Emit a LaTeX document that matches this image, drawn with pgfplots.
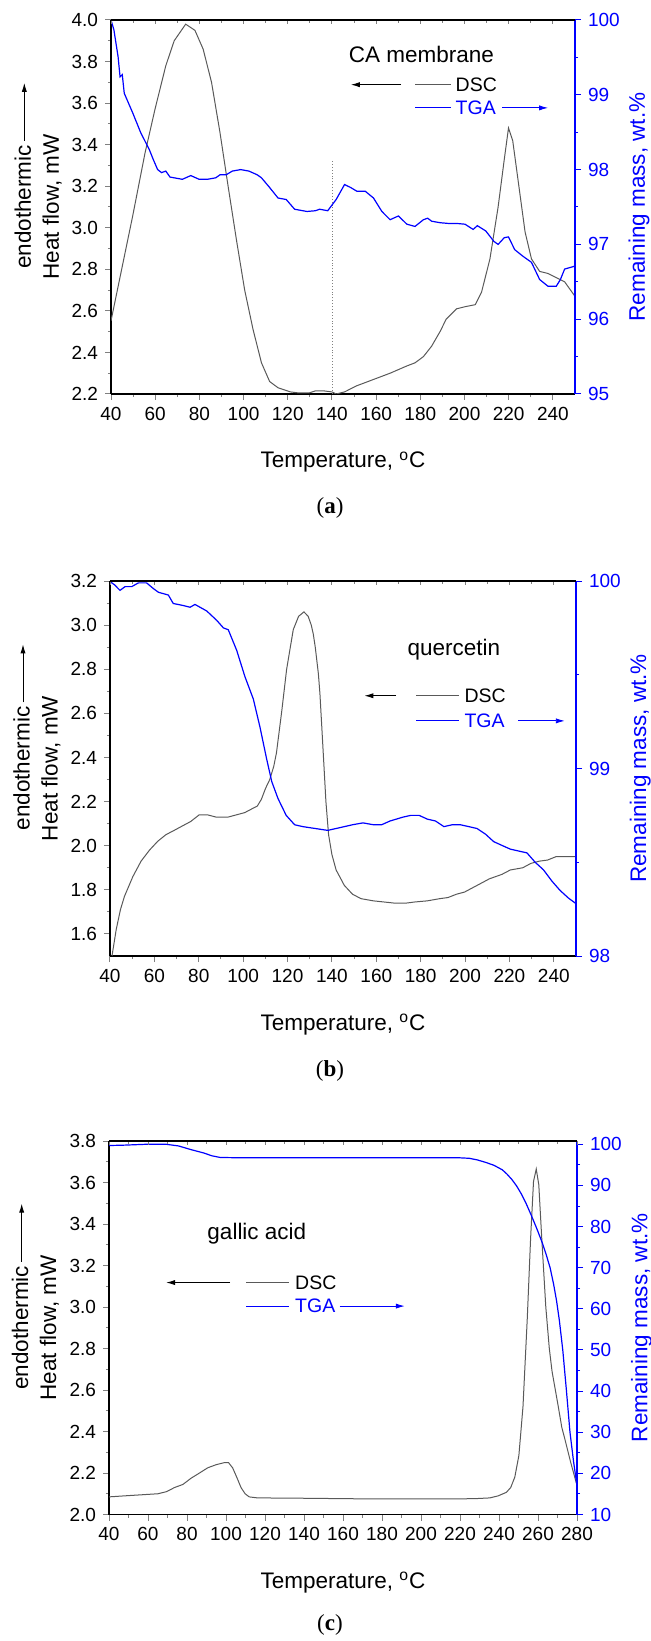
\documentclass[border=0pt]{standalone}
\usepackage{fontspec}
\setmainfont{Liberation Sans}
\newfontfamily\capfont{Liberation Serif}
\usepackage{pgfplots}
\pgfplotsset{compat=1.18}
\usetikzlibrary{arrows.meta}

\tikzset{
  dsc/.style={black!65, line width=0.5pt},
  tga/.style={blue, line width=0.6pt},
  legtext/.style={inner sep=0pt, font=\fontsize{9.75}{11}\selectfont},
  note/.style={inner sep=0pt, font=\fontsize{11.25}{13}\selectfont},
  harrow/.style={-{Latex[length=4.5pt,width=2.6pt]}, line width=0.45pt},
  subcaption/.style={font=\capfont\fontsize{11.5}{13}\selectfont, anchor=base},
}

\pgfplotsset{
  panel/.style={scale only axis, anchor=north west,
    axis line style={-, line width=0.65pt},
    tick style={line width=0.5pt},
    major tick length=3pt, minor tick length=1.6pt,
    tick label style={font=\fontsize{9.5}{11}\selectfont},
    label style={font=\fontsize{11.25}{14}\selectfont},
    /pgf/number format/assume math mode=true,
    tick align=outside},
  leftax/.style={panel, axis x line*=bottom, axis y line*=left,
    minor x tick num=1, minor y tick num=1,
    xlabel={Temperature, \textsuperscript{o}C},
    xlabel style={at={(axis description cs:0.5,0)}, anchor=base, yshift=-37pt},
    ylabel={endothermic\rlap{\,\tikz[baseline=-0.55ex]\draw[harrow](0,0)--(29pt,0);}\\Heat flow, mW},
    ylabel style={at={(axis description cs:-0.157,0.5)}, anchor=center, align=center},
    yticklabel style={/pgf/number format/fixed, /pgf/number format/fixed zerofill,
      /pgf/number format/precision=1}},
  rightax/.style={panel, axis y line*=right, axis x line=none,
    minor y tick num=1,
    y axis line style={blue}, tick style={blue}, tick label style={text=blue},
    ylabel={Remaining mass, wt.\%},
    ylabel style={text=blue, at={(axis description cs:1.138,0.5)}, anchor=center}},
  topax/.style={panel, axis x line*=top, axis y line=none, tick align=inside,
    major tick length=2pt, minor tick length=1.6pt, minor x tick num=1,
    xticklabels={}, ymin=0, ymax=1},
}

% legend rows: y(DSC), y(TGA), DSC arrow tip, DSC arrow tail, line from, line to, text x, TGA arrow from, TGA arrow to
\newcommand{\legrows}[9]{%
  \draw[harrow] (rel axis cs:#4,#1) -- (rel axis cs:#3,#1);
  \draw[dsc] (rel axis cs:#5,#1) -- (rel axis cs:#6,#1);
  \node[legtext, anchor=west] at (rel axis cs:#7,#1) {DSC};
  \draw[tga] (rel axis cs:#5,#2) -- (rel axis cs:#6,#2);
  \node[legtext, anchor=west, text=blue] at (rel axis cs:#7,#2) {TGA};
  \draw[harrow, blue] (rel axis cs:#8,#2) -- (rel axis cs:#9,#2);
}

\begin{document}
\begin{tikzpicture}
\useasboundingbox (0,0) rectangle (325.5pt,-820.5pt);

% ---------------- (a) CA membrane ----------------
\begin{axis}[leftax, at={(55.5pt,-10pt)}, width=232pt, height=187pt,
  xmin=40, xmax=250, xtick={40,60,...,240},
  ymin=2.2, ymax=4.0, ytick={2.2,2.4,2.6,2.8,3.0,3.2,3.4,3.6,3.8,4.0}]
\addplot[gray, densely dotted, line width=0.45pt] coordinates {(140,2.2) (140,3.33)};
\addplot[dsc] coordinates {
 (40,2.552) (49.8,3.056) (55.4,3.36) (59.9,3.57) (64.8,3.78) (68.6,3.90) (73.8,3.98)
 (78.0,3.95) (81.7,3.86) (85.5,3.70) (89.3,3.46) (93.0,3.20) (96.8,2.94) (100.5,2.70)
 (104.3,2.51) (108.1,2.35) (111.8,2.26) (115.6,2.23) (121.2,2.21) (125,2.205) (129.7,2.205)
 (132.5,2.215) (136.3,2.215) (140,2.21) (141.9,2.20) (145.7,2.21) (151.3,2.24) (155.1,2.255)
 (158.8,2.27) (166.3,2.30) (173.9,2.335) (177.6,2.35) (181.4,2.38) (185.1,2.43) (188.9,2.50)
 (191.7,2.56) (196.4,2.61) (200.2,2.62) (204.9,2.63) (207.7,2.69) (211.5,2.85) (215.2,3.10)
 (218,3.33) (219.9,3.48) (221.8,3.42) (224.6,3.20) (227.4,2.98) (230.3,2.85) (234,2.79)
 (237.8,2.78) (241.5,2.76) (245.3,2.74) (250,2.67)};
\node[note] at (rel axis cs:0.669,0.907) {CA membrane};
\legrows{0.827}{0.765}{0.517}{0.625}{0.656}{0.732}{0.742}{0.843}{0.942}
\end{axis}
\begin{axis}[rightax, at={(55.5pt,-10pt)}, width=232pt, height=187pt,
  xmin=40, xmax=250, ymin=95, ymax=100, ytick={95,96,97,98,99,100}]
\addplot[tga] coordinates {
 (40,100.0) (41.3,99.87) (43.2,99.51) (44.1,99.24) (45.1,99.27) (46.0,99.02) (49.8,98.76)
 (53.5,98.49) (57.3,98.27) (59.2,98.13) (61.1,98.0) (62.9,97.96) (64.8,97.98) (66.7,97.90)
 (68.6,97.89) (72.3,97.87) (76.1,97.92) (79.9,97.87) (83.6,97.87) (87.4,97.89) (89.3,97.93)
 (92.1,97.93) (94.9,97.98) (98.7,98.0) (102.4,97.98) (106.2,97.93) (108.1,97.89) (111.8,97.76)
 (115.6,97.62) (119.3,97.6) (123.1,97.47) (128.7,97.44) (132.5,97.45) (134.4,97.47)
 (138.1,97.45) (141.9,97.6) (145.7,97.8) (148.5,97.76) (151.3,97.71) (155.1,97.71)
 (158.8,97.62) (162.6,97.44) (166.3,97.33) (170.1,97.38) (173.9,97.27) (177.6,97.24)
 (181.4,97.33) (183.3,97.35) (185.1,97.31) (188.9,97.29) (192.7,97.28) (196.4,97.28)
 (200.2,97.27) (203.9,97.2) (205.8,97.25) (209.6,97.18) (213.3,97.04) (215.2,97.0)
 (218,97.09) (219.9,97.1) (222.7,96.93) (226.5,96.84) (230.3,96.76) (234,96.53)
 (237.8,96.44) (241.5,96.44) (243.4,96.53) (245.3,96.67) (250,96.71)};
\end{axis}
\begin{axis}[topax, at={(55.5pt,-10pt)}, width=232pt, height=187pt,
  xmin=40, xmax=250, xtick={40,60,...,240}]
\end{axis}
\node[subcaption] at (165pt,-257pt) {(\textbf{a})};

% ---------------- (b) quercetin ----------------
\begin{axis}[leftax, at={(55pt,-290.5pt)}, width=233pt, height=187.5pt,
  xmin=40, xmax=250, xtick={40,60,...,240},
  ymin=1.5, ymax=3.2, ytick={1.6,1.8,2.0,2.2,2.4,2.6,2.8,3.0,3.2}]
\addplot[dsc] coordinates {
 (40.9,1.50) (42.8,1.62) (44.7,1.71) (46.5,1.77) (50.3,1.86) (54.0,1.93) (57.8,1.98)
 (61.5,2.02) (65.2,2.05) (69.0,2.07) (72.7,2.09) (76.4,2.11) (80.2,2.14) (83.9,2.14)
 (87.7,2.13) (93.3,2.13) (97.0,2.14) (100.7,2.15) (104.5,2.17) (106.4,2.18) (108.2,2.21)
 (110.1,2.26) (112.0,2.30) (113.8,2.36) (115.0,2.42) (117.4,2.61) (119.6,2.80) (122.6,2.98)
 (125.0,3.04) (127.4,3.06) (129.3,3.04) (130.7,3.00) (131.6,2.96) (132.5,2.90) (133.9,2.78)
 (134.6,2.69) (136.1,2.42) (137.3,2.20) (138.5,2.05) (140,1.96) (141.9,1.89) (145.6,1.82)
 (149.3,1.78) (153.1,1.76)
 (158.7,1.75) (168.0,1.74) (173.6,1.74) (177.4,1.745) (183.0,1.75) (188.6,1.76) (192.3,1.765)
 (196.1,1.78) (199.8,1.79) (205.4,1.82) (211.0,1.85) (216.6,1.87) (220.4,1.89) (226.0,1.90)
 (229.7,1.92) (233.5,1.93) (237.2,1.935) (240.9,1.95) (244.7,1.95) (249.9,1.95)};
\node[note] at (rel axis cs:0.738,0.817) {quercetin};
\legrows{0.694}{0.627}{0.546}{0.614}{0.657}{0.748}{0.760}{0.876}{0.976}
\end{axis}
\begin{axis}[rightax, at={(55pt,-290.5pt)}, width=233pt, height=187.5pt,
  xmin=40, xmax=250, ymin=98, ymax=100, ytick={98,99,100}]
\addplot[tga] coordinates {
 (40,100.0) (40.8,99.99) (42.0,99.98) (44.5,99.95) (46.8,99.97) (49.8,99.97) (52.8,99.99)
 (56.5,99.99) (59.5,99.96) (61.8,99.94) (66.3,99.925) (68.5,99.88) (72.7,99.87) (76.1,99.86)
 (78.3,99.875) (83.6,99.84) (88.1,99.79) (91.1,99.75) (93.3,99.74) (97.1,99.63) (100.8,99.49)
 (104.6,99.37) (107.6,99.22) (110.6,99.05) (112.9,98.93) (115.7,98.84) (119.4,98.75)
 (123.2,98.70) (126.9,98.69) (132.5,98.68) (138.1,98.67) (140,98.675) (145.6,98.69)
 (149.3,98.70) (154.0,98.71) (158.7,98.70) (162.4,98.70) (166.2,98.72) (171.8,98.74)
 (175.5,98.75) (179.3,98.75) (183.0,98.73) (186.7,98.72) (190.5,98.69) (194.2,98.70)
 (197.9,98.70) (201.7,98.69) (205.4,98.68) (209.2,98.65) (212.9,98.61) (216.6,98.59)
 (220.4,98.57) (224.1,98.56) (227.9,98.55) (231.6,98.50) (235.3,98.46) (239.1,98.40)
 (242.8,98.35) (246.5,98.31) (249.9,98.28)};
\end{axis}
\begin{axis}[topax, at={(55pt,-290.5pt)}, width=233pt, height=187.5pt,
  xmin=40, xmax=250, xtick={40,60,...,240}]
\end{axis}
\node[subcaption] at (165pt,-538pt) {(\textbf{b})};

% ---------------- (c) gallic acid ----------------
\begin{axis}[leftax, at={(54.5pt,-570.5pt)}, width=234pt, height=186.75pt,
  xmin=40, xmax=280, xtick={40,60,...,280},
  ymin=2.0, ymax=3.8, ytick={2.0,2.2,2.4,2.6,2.8,3.0,3.2,3.4,3.6,3.8}]
\addplot[dsc] coordinates {
 (40,2.085) (48.1,2.09) (56.6,2.095) (65.1,2.10) (69.4,2.11) (73.6,2.13) (77.9,2.145)
 (82.1,2.175) (86.4,2.20) (90.6,2.225) (94.9,2.24) (99.1,2.25) (101.3,2.25) (103.4,2.225)
 (105.5,2.18) (107.7,2.13) (109.8,2.10) (111.9,2.085) (116.2,2.08) (133.2,2.079)
 (154.5,2.077) (175.7,2.075) (197.0,2.075) (218.3,2.075) (228.9,2.077) (235.3,2.08)
 (239.6,2.09) (243.8,2.107) (246.0,2.13) (248.1,2.18) (250.2,2.285) (252.3,2.52)
 (254.5,2.945) (256.2,3.33) (257.7,3.605) (259.1,3.665) (260.4,3.59) (261.9,3.335)
 (264.0,3.0) (265.8,2.80) (267.2,2.69) (270.4,2.52) (272.2,2.42) (273.6,2.37) (276.8,2.25)
 (280,2.14)};
\node[note] at (rel axis cs:0.316,0.751) {gallic acid};
\legrows{0.621}{0.558}{0.122}{0.259}{0.293}{0.385}{0.397}{0.493}{0.632}
\end{axis}
\begin{axis}[rightax, at={(54.5pt,-570.5pt)}, width=234pt, height=186.75pt,
  xmin=40, xmax=280, ymin=10, ymax=100.8, ytick={10,20,...,100}]
\addplot[tga] coordinates {
 (40,99.7) (48.1,99.8) (58.7,100.0) (69.4,100.0) (75.7,99.6) (82.1,98.7) (88.5,97.9)
 (92.8,97.2) (97.0,96.8) (103.4,96.75) (133.2,96.75) (175.7,96.75) (207.7,96.75)
 (218.3,96.75) (224.7,96.6) (228.9,96.2) (233.2,95.6) (237.4,94.9) (241.7,93.8)
 (244.0,92.8) (246.5,91.5) (249.0,89.9) (251.5,87.9) (254.0,85.5) (256.5,82.8)
 (259.3,79.6) (262.0,76.3) (264.0,73.5) (266.2,70.0) (268.0,66.0) (269.5,62.0)
 (271.0,57.0) (272.7,50.0) (274.6,40.0) (276.4,30.0) (278.2,23.0) (280,17.0)};
\end{axis}
\begin{axis}[topax, at={(54.5pt,-570.5pt)}, width=234pt, height=186.75pt,
  xmin=40, xmax=280, xtick={40,60,...,280}]
\end{axis}
\node[subcaption] at (165pt,-815pt) {(\textbf{c})};
\end{tikzpicture}
\end{document}
